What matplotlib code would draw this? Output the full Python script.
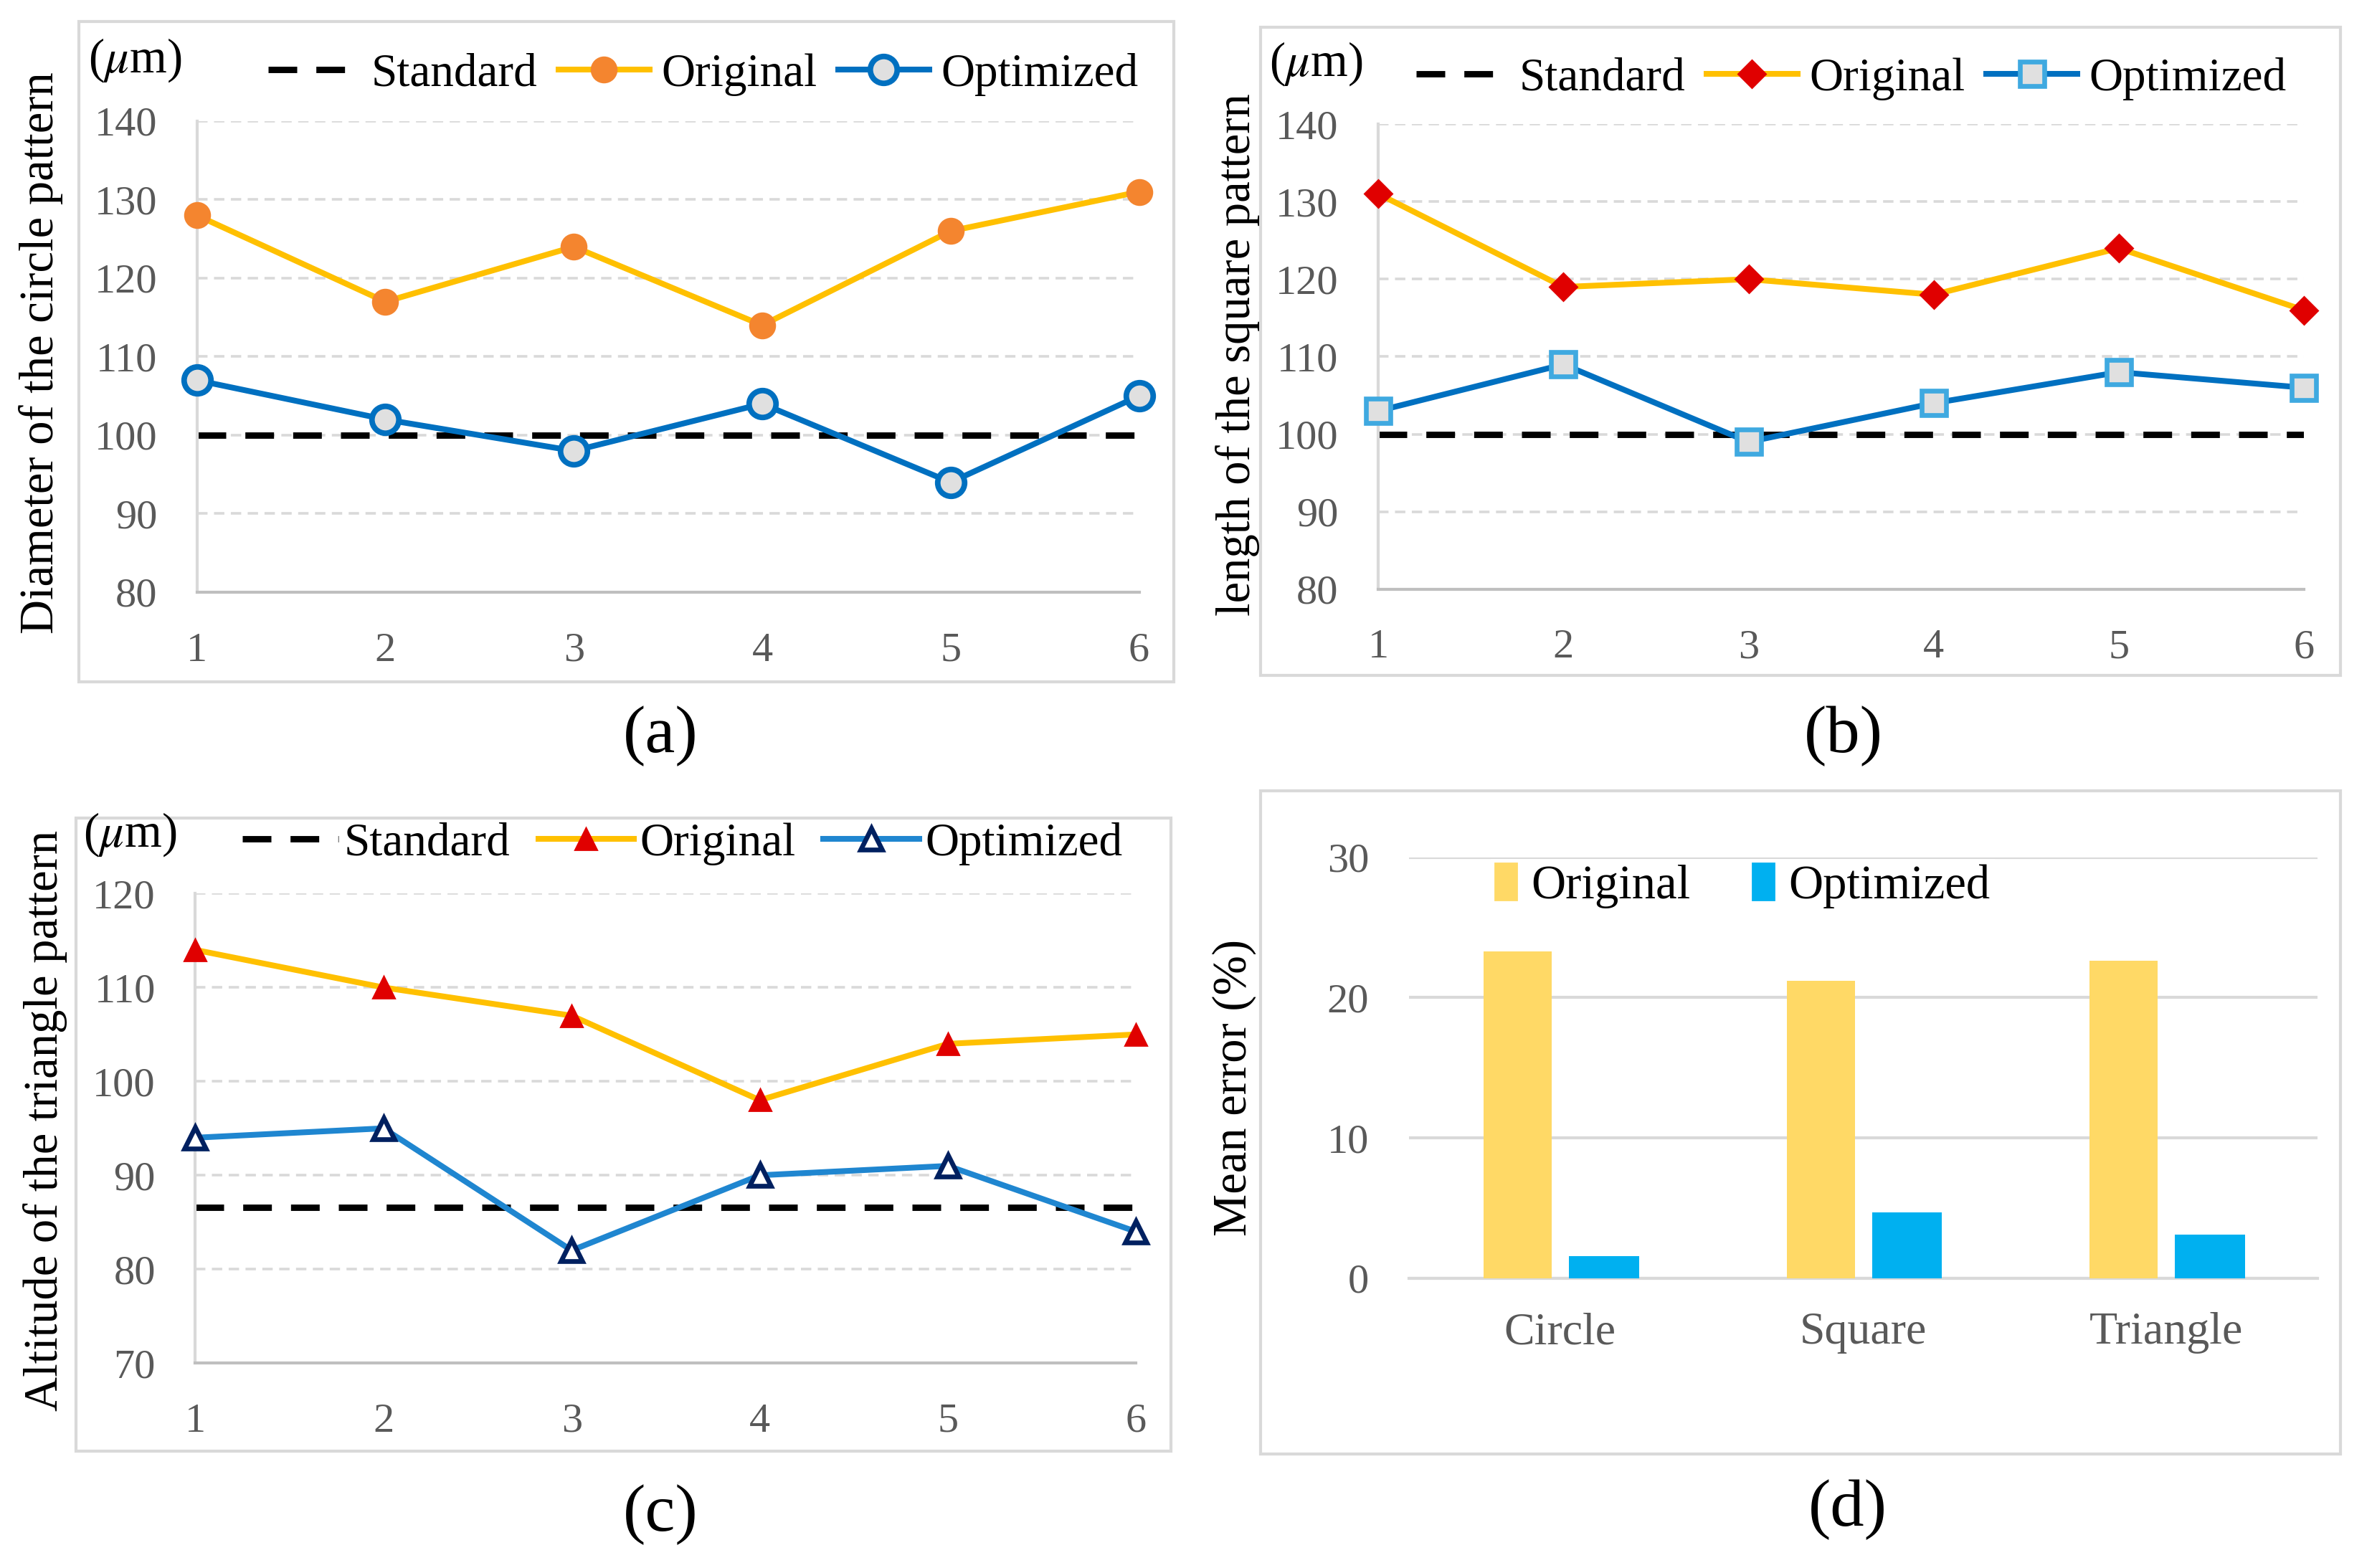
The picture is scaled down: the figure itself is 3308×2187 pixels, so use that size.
import numpy as np
import matplotlib
matplotlib.use('Agg')
import matplotlib.pyplot as plt
from matplotlib.patches import Rectangle, Patch
from matplotlib.lines import Line2D

plt.rcParams['font.family'] = 'Liberation Serif'
plt.rcParams['mathtext.fontset'] = 'stix'

# data
samples = [1, 2, 3, 4, 5, 6]
circle_original = [128, 117, 124, 114, 126, 131]
circle_optimized = [107, 102, 98, 104, 94, 105]
circle_standard = 100
square_original = [131, 119, 120, 118, 124, 116]
square_optimized = [103, 109, 99, 104, 108, 106]
square_standard = 100
triangle_original = [114, 110, 107, 98, 104, 105]
triangle_optimized = [94, 95, 82, 90, 91, 84]
triangle_standard = 86.6

shapes = ['Circle', 'Square', 'Triangle']
error_original = [23.3, 21.2, 22.6]
error_optimized = [1.6, 4.7, 3.1]

# layout is measured on a scaled-down copy of the reference
W, H = 1566, 1035.3
GRAY = '#595959'

fig = plt.figure(figsize=(16.54, 10.935), dpi=200)


def rect(x0, y0, x1, y1):
    return [x0 / W, 1 - y1 / H, (x1 - x0) / W, (y1 - y0) / H]


def frame(x0, y0, x1, y1):
    fig.patches.append(Rectangle((x0 / W, 1 - y1 / H), (x1 - x0) / W, (y1 - y0) / H,
                                 transform=fig.transFigure, fill=False,
                                 edgecolor='#D9D9D9', lw=1.5))


def ftext(x, y, s, **kw):
    fig.text(x / W, 1 - y / H, s, **kw)


def line_panel(box, ylim, yticks, orig, opt, std, orig_style, opt_style, opt_color):
    ax = fig.add_axes(rect(*box))
    for y in yticks[1:]:
        ax.axhline(y, color='#D9D9D9', lw=1.3, ls=(0, (4, 2.5)), zorder=0)
    ax.plot(samples, [std] * len(samples), color='black', lw=3.2, dashes=(4.5, 3), zorder=2)
    ax.plot(samples, orig, color='#FFC000', lw=2.9, clip_on=False, zorder=3, **orig_style)
    ax.plot(samples, opt, color=opt_color, lw=2.9, clip_on=False, zorder=4, **opt_style)
    ax.set_xlim(1, 6)
    ax.set_ylim(*ylim)
    ax.set_xticks(samples)
    ax.set_yticks(yticks)
    for s in ['top', 'right']:
        ax.spines[s].set_visible(False)
    ax.spines['left'].set_color('#D9D9D9')
    ax.spines['bottom'].set_color('#BFBFBF')
    ax.spines['left'].set_linewidth(1.5)
    ax.spines['bottom'].set_linewidth(1.5)
    ax.tick_params(length=0, pad=20, labelsize=21, labelcolor=GRAY)
    handles = [
        Line2D([], [], color='black', lw=3.2, dashes=(4.5, 3)),
        Line2D([], [], color='#FFC000', lw=2.9, **orig_style),
        Line2D([], [], color=opt_color, lw=2.9, **opt_style),
    ]
    return ax, handles


def add_legend(handles, x, y, pad=0.25, hl=1.95, cs=0.45):
    fig.legend(handles, ['Standard', 'Original', 'Optimized'], loc='center left',
               bbox_to_anchor=(x / W, 1 - y / H), ncol=3, frameon=False, fontsize=23.5,
               handlelength=hl, handletextpad=pad, columnspacing=cs,
               borderaxespad=0, borderpad=0)


# (a) circle
frame(52, 14, 775, 450)
ax_a, h_a = line_panel((130, 80, 752, 391), (80, 140), [80, 90, 100, 110, 120, 130, 140],
                       circle_original, circle_optimized, circle_standard,
                       dict(marker='o', ms=12.5, mfc='#F4852F', mec='#F4852F'),
                       dict(marker='o', ms=13.5, mfc='#E0E0E0', mec='#0070C0', mew=2.8),
                       '#0070C0')
add_legend(h_a, 177, 49)
ftext(58, 40, r'($\mu$m)', fontsize=24, va='center', ha='left')
ftext(27, 233, 'Diameter of the circle pattern', fontsize=24, rotation=90, va='center', ha='center')
ftext(436, 486, '(a)', fontsize=34, va='center', ha='center')

# (b) square
frame(832, 18, 1545, 446)
ax_b, h_b = line_panel((910, 82, 1521, 389), (80, 140), [80, 90, 100, 110, 120, 130, 140],
                       square_original, square_optimized, square_standard,
                       dict(marker='D', ms=9.5, mfc='#E00000', mec='#E00000'),
                       dict(marker='s', ms=12, mfc='#E0E0E0', mec='#3FA9E0', mew=2.4),
                       '#0070C0')
add_legend(h_b, 935, 52)
ftext(838, 42, r'($\mu$m)', fontsize=24, va='center', ha='left')
ftext(817, 234, 'length of the square pattern', fontsize=24, rotation=90, va='center', ha='center')
ftext(1217, 486, '(b)', fontsize=34, va='center', ha='center')

# (c) triangle
frame(50, 540, 773, 958)
ax_c, h_c = line_panel((129, 590, 750, 900), (70, 120), [70, 80, 90, 100, 110, 120],
                       triangle_original, triangle_optimized, triangle_standard,
                       dict(marker='^', ms=11, mfc='#E00000', mec='#E00000'),
                       dict(marker='^', ms=11, mfc='white', mec='#002060', mew=2.4),
                       '#1F86D0')
add_legend(h_c, 160, 557, pad=0.12, hl=2.05, cs=0.6)
ftext(55, 551, r'($\mu$m)', fontsize=24, va='center', ha='left')
ftext(30, 740, 'Altitude of the triangle pattern', fontsize=24, rotation=90, va='center', ha='center')
ftext(436, 1000, '(c)', fontsize=34, va='center', ha='center')

# (d) mean error bars
frame(832, 522, 1545, 960)
ax_d = fig.add_axes(rect(930, 566, 1530, 844))
x = np.arange(len(shapes))
ax_d.bar(x - 0.14, error_original, 0.225, color='#FFD966', zorder=3)
ax_d.bar(x + 0.145, error_optimized, 0.23, color='#00B0F0', zorder=3)
ax_d.set_xlim(-0.5, 2.5)
ax_d.set_ylim(0, 30)
ax_d.set_yticks([0, 10, 20, 30])
ax_d.set_xticks(x)
ax_d.set_xticklabels(shapes)
ax_d.grid(axis='y', color='#D9D9D9', lw=1.5, zorder=0)
ax_d.set_axisbelow(True)
for s in ['top', 'right', 'left']:
    ax_d.spines[s].set_visible(False)
ax_d.spines['bottom'].set_color('#D9D9D9')
ax_d.spines['bottom'].set_linewidth(1.5)
ax_d.tick_params(length=0, labelcolor=GRAY)
ax_d.tick_params(axis='y', pad=20, labelsize=21)
ax_d.tick_params(axis='x', pad=17, labelsize=23)
leg = fig.legend([Patch(color='#FFD966'), Patch(color='#00B0F0')], ['Original', 'Optimized'],
                 loc='center left', bbox_to_anchor=(984 / W, 1 - 585 / H), ncol=2,
                 fontsize=24, handlelength=0.45, handleheight=0.8, handletextpad=0.3,
                 columnspacing=1.3, borderaxespad=0, borderpad=0.1, frameon=True,
                 fancybox=False)
leg.get_frame().set_facecolor('white')
leg.get_frame().set_edgecolor('none')
ftext(815, 718, 'Mean error (%)', fontsize=24, rotation=90, va='center', ha='center')
ftext(1220, 997, '(d)', fontsize=34, va='center', ha='center')

fig.savefig('out.png', dpi=200, facecolor='white')
